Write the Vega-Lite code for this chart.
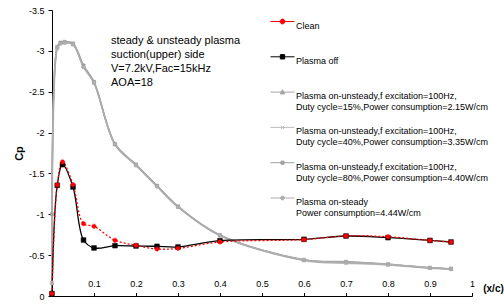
{
  "$schema": "https://vega.github.io/schema/vega-lite/v6.json",
  "width": 420,
  "height": 286,
  "autosize": {"type": "none"},
  "padding": {"left": 52, "top": 10, "right": 32, "bottom": 8},
  "background": "#ffffff",
  "config": {"view": {"stroke": null}, "font": "Liberation Sans"},
  "data": {"values": [
    {"s":"U15","x":0,"cp":-0.16},{"s":"U15","x":0.0125,"cp":-3.04},{"s":"U15","x":0.02,"cp":-3.09},{"s":"U15","x":0.03,"cp":-3.10},{"s":"U15","x":0.05,"cp":-3.08},{"s":"U15","x":0.075,"cp":-2.81},{"s":"U15","x":0.1,"cp":-2.61},{"s":"U15","x":0.15,"cp":-1.86},{"s":"U15","x":0.2,"cp":-1.60},{"s":"U15","x":0.25,"cp":-1.345},{"s":"U15","x":0.3,"cp":-1.09},{"s":"U15","x":0.4,"cp":-0.745},{"s":"U15","x":0.6,"cp":-0.44},{"s":"U15","x":0.7,"cp":-0.415},{"s":"U15","x":0.8,"cp":-0.385},{"s":"U15","x":0.9,"cp":-0.345},{"s":"U15","x":0.95,"cp":-0.33},
    {"s":"U40","x":0,"cp":-0.16},{"s":"U40","x":0.0125,"cp":-3.03},{"s":"U40","x":0.02,"cp":-3.10},{"s":"U40","x":0.03,"cp":-3.11},{"s":"U40","x":0.05,"cp":-3.09},{"s":"U40","x":0.075,"cp":-2.82},{"s":"U40","x":0.1,"cp":-2.62},{"s":"U40","x":0.15,"cp":-1.85},{"s":"U40","x":0.2,"cp":-1.60},{"s":"U40","x":0.25,"cp":-1.35},{"s":"U40","x":0.3,"cp":-1.10},{"s":"U40","x":0.4,"cp":-0.74},{"s":"U40","x":0.6,"cp":-0.435},{"s":"U40","x":0.7,"cp":-0.40},{"s":"U40","x":0.8,"cp":-0.38},{"s":"U40","x":0.9,"cp":-0.34},{"s":"U40","x":0.95,"cp":-0.33},
    {"s":"U80","x":0,"cp":-1.0},{"s":"U80","x":0.0125,"cp":-3.05},{"s":"U80","x":0.02,"cp":-3.10},{"s":"U80","x":0.03,"cp":-3.11},{"s":"U80","x":0.05,"cp":-3.09},{"s":"U80","x":0.075,"cp":-2.82},{"s":"U80","x":0.1,"cp":-2.62},{"s":"U80","x":0.15,"cp":-1.86},{"s":"U80","x":0.2,"cp":-1.61},{"s":"U80","x":0.25,"cp":-1.35},{"s":"U80","x":0.3,"cp":-1.095},{"s":"U80","x":0.4,"cp":-0.745},{"s":"U80","x":0.6,"cp":-0.44},{"s":"U80","x":0.7,"cp":-0.42},{"s":"U80","x":0.8,"cp":-0.39},{"s":"U80","x":0.9,"cp":-0.345},{"s":"U80","x":0.95,"cp":-0.335},
    {"s":"Steady","x":0,"cp":-0.16},{"s":"Steady","x":0.0125,"cp":-3.04},{"s":"Steady","x":0.02,"cp":-3.09},{"s":"Steady","x":0.03,"cp":-3.10},{"s":"Steady","x":0.05,"cp":-3.08},{"s":"Steady","x":0.075,"cp":-2.80},{"s":"Steady","x":0.1,"cp":-2.61},{"s":"Steady","x":0.15,"cp":-1.86},{"s":"Steady","x":0.2,"cp":-1.60},{"s":"Steady","x":0.25,"cp":-1.34},{"s":"Steady","x":0.3,"cp":-1.09},{"s":"Steady","x":0.4,"cp":-0.74},{"s":"Steady","x":0.6,"cp":-0.445},{"s":"Steady","x":0.7,"cp":-0.41},{"s":"Steady","x":0.8,"cp":-0.39},{"s":"Steady","x":0.9,"cp":-0.345},{"s":"Steady","x":0.95,"cp":-0.33},
    {"s":"Plasma off","x":0,"cp":-0.03},{"s":"Plasma off","x":0.0125,"cp":-1.355},{"s":"Plasma off","x":0.025,"cp":-1.607},{"s":"Plasma off","x":0.05,"cp":-1.334},{"s":"Plasma off","x":0.075,"cp":-0.685},{"s":"Plasma off","x":0.1,"cp":-0.588},{"s":"Plasma off","x":0.15,"cp":-0.616},{"s":"Plasma off","x":0.2,"cp":-0.612},{"s":"Plasma off","x":0.25,"cp":-0.608},{"s":"Plasma off","x":0.3,"cp":-0.60},{"s":"Plasma off","x":0.4,"cp":-0.677},{"s":"Plasma off","x":0.6,"cp":-0.694},{"s":"Plasma off","x":0.7,"cp":-0.734},{"s":"Plasma off","x":0.8,"cp":-0.714},{"s":"Plasma off","x":0.9,"cp":-0.68},{"s":"Plasma off","x":0.95,"cp":-0.661},
    {"s":"Clean","x":0,"cp":-0.03},{"s":"Clean","x":0.0125,"cp":-1.36},{"s":"Clean","x":0.025,"cp":-1.64},{"s":"Clean","x":0.05,"cp":-1.363},{"s":"Clean","x":0.075,"cp":-0.885},{"s":"Clean","x":0.1,"cp":-0.853},{"s":"Clean","x":0.15,"cp":-0.682},{"s":"Clean","x":0.2,"cp":-0.62},{"s":"Clean","x":0.25,"cp":-0.575},{"s":"Clean","x":0.3,"cp":-0.583},{"s":"Clean","x":0.4,"cp":-0.661},{"s":"Clean","x":0.6,"cp":-0.69},{"s":"Clean","x":0.7,"cp":-0.735},{"s":"Clean","x":0.8,"cp":-0.725},{"s":"Clean","x":0.9,"cp":-0.68},{"s":"Clean","x":0.95,"cp":-0.66}
  ]},
  "encoding": {
    "x": {"field": "x", "type": "quantitative",
      "scale": {"domain": [0, 1], "nice": false, "zero": false},
      "axis": {"orient": "top", "offset": -286, "values": [0,0.1,0.2,0.3,0.4,0.5,0.6,0.7,0.8,0.9,1],
        "labelExpr": "datum.value == 0 ? '' : '' + datum.value",
        "grid": false, "tickSize": 3.5, "labelPadding": 4, "labelFontSize": 9, "labelColor": "#000000",
        "domainColor": "#000000", "tickColor": "#000000", "labelFont": "Liberation Sans",
        "labelFlush": false, "labelOverlap": false,
        "encode": {"ticks": {"update": {"y": {"value": 3.5}}}},
        "title": "(x/c)", "titleX": 441, "titleY": -8, "titleAlign": "center", "titleBaseline": "middle",
        "titleFontSize": 10, "titleFontWeight": "bold", "titleColor": "#000000", "titleFont": "Liberation Sans"}},
    "y": {"field": "cp", "type": "quantitative",
      "scale": {"domain": [0, -3.5], "nice": false, "zero": false},
      "axis": {"values": [-3.5,-3,-2.5,-2,-1.5,-1,-0.5,0], "labelExpr": "'' + datum.value",
        "grid": false, "tickSize": 4, "labelPadding": 4, "labelFontSize": 9, "labelColor": "#000000",
        "domainColor": "#000000", "tickColor": "#000000", "labelFont": "Liberation Sans",
        "labelFlush": false, "labelOverlap": false,
        "title": "Cp", "titleFontSize": 11, "titleFontWeight": "bold", "titlePadding": 4, "titleColor": "#000000", "titleFont": "Liberation Sans"}}
  },
  "layer": [
    {"mark": {"type": "line", "interpolate": "catmull-rom", "strokeWidth": 1.5, "color": "#a6a6a6"}, "transform": [{"filter": "datum.s == 'U15'"}], "encoding": {}},
    {"mark": {"type": "line", "interpolate": "catmull-rom", "strokeWidth": 1.5, "color": "#bdbdbd"}, "transform": [{"filter": "datum.s == 'U40'"}], "encoding": {}},
    {"mark": {"type": "line", "interpolate": "catmull-rom", "strokeWidth": 1.5, "color": "#a0a0a0"}, "transform": [{"filter": "datum.s == 'U80'"}], "encoding": {}},
    {"mark": {"type": "line", "interpolate": "catmull-rom", "strokeWidth": 1.5, "color": "#adadad"}, "transform": [{"filter": "datum.s == 'Steady'"}], "encoding": {}},
    {"mark": {"type": "line", "interpolate": "catmull-rom", "strokeWidth": 1.3, "color": "#000000"}, "transform": [{"filter": "datum.s == 'Plasma off'"}], "encoding": {}},
    {"mark": {"type": "line", "interpolate": "catmull-rom", "strokeWidth": 1.3, "color": "#ff0000", "strokeDash": [2, 2]}, "transform": [{"filter": "datum.s == 'Clean'"}], "encoding": {}},
    {
      "mark": {"type": "point", "filled": true, "opacity": 1, "strokeWidth": 0.6,
        "size": {"expr": "datum.s ? (datum.s === 'Plasma off' ? 22 : datum.s === 'Clean' ? 18 : datum.s === 'U80' ? 10 : 12) : 576"},
        "strokeDash": {"expr": "datum.s ? [1,0] : (datum.value === 'Clean' ? [2,1.5] : [1,0])"},
        "shape": {"expr": "datum.s ? (datum.s === 'Clean' ? 'circle' : datum.s === 'Plasma off' ? 'square' : datum.s === 'U15' ? 'triangle-up' : datum.s === 'U40' ? 'M-1,-0.6L-0.6,-1L0,-0.4L0.6,-1L1,-0.6L0.4,0L1,0.6L0.6,1L0,0.4L-0.6,1L-1,0.6L-0.4,0Z' : datum.s === 'U80' ? 'square' : 'circle') : (datum.value === 'Clean' ? 'M-1,0L1,0M-0.2,0A0.2,0.2,0,1,0,0.2,0A0.2,0.2,0,1,0,-0.2,0Z' : datum.value === 'Plasma off' ? 'M-1,0L1,0M-0.18,-0.18L0.18,-0.18L0.18,0.18L-0.18,0.18Z' : datum.value === 'U15' ? 'M-1,0L1,0M0,-0.2L0.2,0.15L-0.2,0.15Z' : datum.value === 'U40' ? 'M-1,0L1,0M-0.14,-0.14L0.14,0.14M-0.14,0.14L0.14,-0.14' : datum.value === 'U80' ? 'M-1,0L1,0M-0.13,-0.13L0.13,-0.13L0.13,0.13L-0.13,0.13Z' : 'M-1,0L1,0M-0.16,0A0.16,0.16,0,1,0,0.16,0A0.16,0.16,0,1,0,-0.16,0Z')"}},
      "encoding": {
        "stroke": {"field": "s", "type": "nominal",
          "scale": {"domain": ["Clean","Plasma off","U15","U40","U80","Steady"], "range": ["#ff0000","#000000","#a6a6a6","#bdbdbd","#a0a0a0","#adadad"]}},
        "fill": {"field": "s", "type": "nominal",
          "scale": {"domain": ["Clean","Plasma off","U15","U40","U80","Steady"], "range": ["#ff0000","#000000","#a6a6a6","#bdbdbd","#a0a0a0","#adadad"]},
          "legend": {
            "orient": "none", "legendX": 218, "legendY": -1, "title": null, "padding": 0,
            "gridAlign": "all", "rowPadding": 2.3, "labelFont": "Liberation Sans", "labelFontSize": 9,
            "labelLimit": 300, "labelOffset": 1, "symbolSize": 576, "labelBaseline": "top", "symbolStrokeWidth": 1,
            "labelExpr": "datum.value === 'U15' ? ['Plasma on-unsteady,f excitation=100Hz,', 'Duty cycle=15%,Power consumption=2.15W/cm'] : datum.value === 'U40' ? ['Plasma on-unsteady,f excitation=100Hz,', 'Duty cycle=40%,Power consumption=3.35W/cm'] : datum.value === 'U80' ? ['Plasma on-unsteady,f excitation=100Hz,', 'Duty cycle=80%,Power consumption=4.40W/cm'] : datum.value === 'Steady' ? ['Plasma on-steady', 'Power consumption=4.44W/cm'] : datum.label",
            "encode": {
              "symbols": {"update": {
                "size": {"value": 576},
                "strokeWidth": {"value": 1},
                "opacity": {"value": 1}
              }},
              "labels": {"update": {
                "dy": {"value": -4.4},
                "lineHeight": {"value": 11.5},
                "fill": {"signal": "datum.value === 'Clean' ? '#ff0000' : '#000000'"}
              }}
            }
          }}
      }
    },
    {
      "data": {"values": [{"x": 0.1405, "cp": -3.19, "t": "steady & unsteady plasma\nsuction(upper) side\nV=7.2kV,Fac=15kHz\nAOA=18"}]},
      "mark": {"type": "text", "align": "left", "baseline": "top", "lineBreak": "\n", "lineHeight": 14, "fontSize": 11, "font": "Liberation Sans", "color": "#000000"},
      "encoding": {"text": {"field": "t", "type": "nominal"}}
    }
  ]
}
